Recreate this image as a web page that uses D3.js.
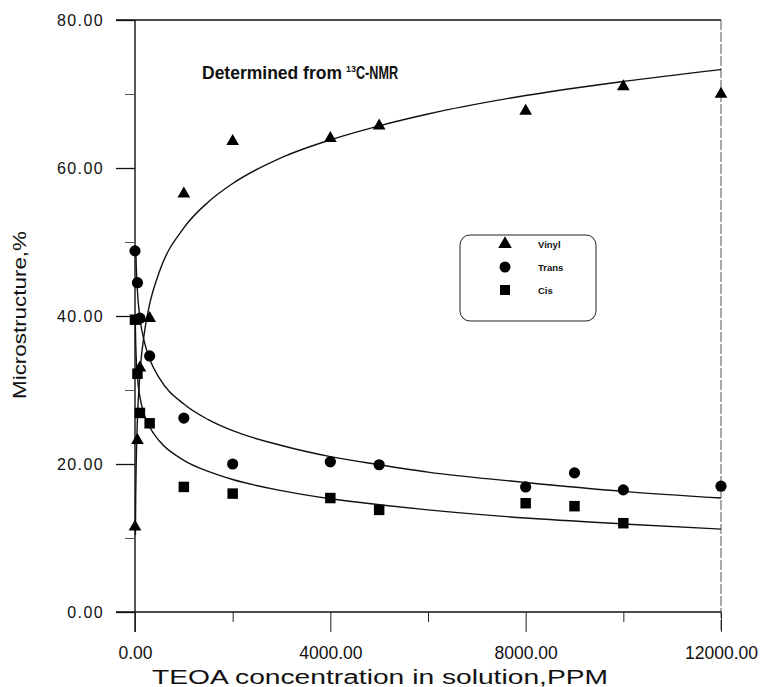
<!DOCTYPE html>
<html><head><meta charset="utf-8">
<script src="https://cdn.jsdelivr.net/npm/d3@7"></script>
<style>body{margin:0;background:#fff}svg{display:block}</style>
</head><body>
<svg id="c" width="760" height="687"></svg>
<script>
// Measured data
const vinylX = [0, 50, 100, 300, 1000, 2000, 4000, 5000, 8000, 10000, 12000];
const vinylY = [11.5, 23.2, 33.0, 39.7, 56.5, 63.6, 64.0, 65.7, 67.7, 71.0, 70.0];
const transX = [0, 50, 100, 300, 1000, 2000, 4000, 5000, 8000, 9000, 10000, 12000];
const transY = [48.8, 44.5, 39.7, 34.6, 26.2, 20.0, 20.3, 19.9, 16.9, 18.8, 16.5, 17.0];
const cisX = [0, 50, 100, 300, 1000, 2000, 4000, 5000, 8000, 9000, 10000];
const cisY = [39.5, 32.2, 26.9, 25.5, 16.9, 16.0, 15.4, 13.8, 14.7, 14.3, 12.0];
// Fitted curves
const vinylFitX = [8, 15, 25, 50, 100, 200, 300, 500, 1000, 1500, 2000, 3000, 4000, 5000, 6000, 8000, 10000, 12000];
const vinylFitY = [10.4, 15.8, 20.2, 26.1, 32.1, 38.1, 41.6, 46.0, 51.9, 55.4, 57.9, 61.4, 63.8, 65.7, 67.3, 69.8, 71.7, 73.3];
const transFitX = [16, 25, 50, 100, 200, 300, 500, 1000, 1500, 2000, 3000, 4000, 5000, 6000, 8000, 10000, 12000];
const transFitY = [49.2, 46.9, 43.3, 39.8, 36.3, 34.2, 31.6, 28.1, 26.0, 24.5, 22.5, 21.0, 19.9, 18.9, 17.5, 16.3, 15.4];
const cisFitX = [6, 10, 25, 50, 100, 200, 300, 500, 1000, 1500, 2000, 3000, 4000, 5000, 6000, 8000, 10000, 12000];
const cisFitY = [39.7, 37.8, 34.3, 31.7, 29.1, 26.5, 25.0, 23.1, 20.5, 19.0, 17.9, 16.4, 15.3, 14.5, 13.8, 12.7, 11.9, 11.2];
const xMajor = [0, 4000, 8000, 12000];
const xMinor = [2000, 6000, 10000];
const yMajor = [0, 20, 40, 60, 80];
const yMinor = [10, 30, 50, 70];
const legendLabels = ["Vinyl", "Trans", "Cis"];

const FONT = "Liberation Sans, Arial, sans-serif";
const svg = d3.select("#c");
const x = d3.scaleLinear().domain([0, 12000]).range([135, 721]);
const y = d3.scaleLinear().domain([0, 80]).range([612, 20]);
const fmt = d3.format(".2f");

// frame top/right
svg.append("line").attr("x1", 116).attr("x2", x(12000)).attr("y1", y(80)).attr("y2", y(80)).attr("stroke", "#111").attr("stroke-width", 1.3);
svg.append("line").attr("x1", x(12000)).attr("x2", x(12000)).attr("y1", y(80)).attr("y2", 632).attr("stroke", "#555").attr("stroke-width", 1).attr("stroke-dasharray", "10,2");

// Y axis
const yAx = svg.append("g").attr("transform", `translate(${x(0)},0)`)
  .call(d3.axisLeft(y).tickValues(yMajor).tickSize(19).tickPadding(12).tickFormat(fmt));
yAx.select(".domain").attr("d", `M0,${y(80)}V632`).attr("stroke", "#111").attr("stroke-width", 1.4);
yAx.selectAll("text").attr("font-family", FONT).attr("font-size", 16).attr("letter-spacing", "1.4px").attr("fill", "#111");
yAx.selectAll(".tick line").attr("stroke", "#111").attr("stroke-width", 1.3);
svg.append("g").attr("transform", `translate(${x(0)},0)`)
  .call(d3.axisLeft(y).tickValues(yMinor).tickSize(10).tickFormat(""))
  .call(g => { g.select(".domain").remove(); g.selectAll("line").attr("stroke", "#555"); });

// X axis
const xAx = svg.append("g").attr("transform", `translate(0,${y(0)})`)
  .call(d3.axisBottom(x).tickValues(xMajor).tickSize(20).tickPadding(15).tickFormat(fmt));
xAx.select(".domain").attr("d", `M116,0H${x(12000)}`).attr("stroke", "#111").attr("stroke-width", 1.3);
xAx.selectAll("text").attr("font-family", FONT).attr("font-size", 17.5).attr("fill", "#111");
xAx.selectAll(".tick line").attr("stroke", "#222");
svg.append("g").attr("transform", `translate(0,${y(0)})`)
  .call(d3.axisBottom(x).tickValues(xMinor).tickSize(10).tickFormat(""))
  .call(g => { g.select(".domain").remove(); g.selectAll("line").attr("stroke", "#222"); });

// axis titles
svg.append("text").attr("x", 152).attr("y", 684)
  .attr("font-family", FONT).attr("font-size", 20).attr("fill", "#111")
  .attr("textLength", 456).attr("lengthAdjust", "spacingAndGlyphs")
  .text("TEOA concentration in solution,PPM");
svg.append("text").attr("transform", "translate(26,399) rotate(-90)")
  .attr("font-family", FONT).attr("font-size", 19).attr("fill", "#111")
  .attr("textLength", 168).attr("lengthAdjust", "spacingAndGlyphs")
  .text("Microstructure,%");

// title
svg.append("text").attr("x", 202).attr("y", 79)
  .attr("font-family", FONT).attr("font-weight", "bold").attr("font-size", 17.5).attr("fill", "#111")
  .attr("textLength", 140).attr("lengthAdjust", "spacingAndGlyphs").text("Determined from");
svg.append("text").attr("x", 346).attr("y", 72)
  .attr("font-family", FONT).attr("font-weight", "bold").attr("font-size", 9).attr("fill", "#111").text("13");
svg.append("text").attr("x", 356).attr("y", 79)
  .attr("font-family", FONT).attr("font-weight", "bold").attr("font-size", 17.5).attr("fill", "#111")
  .attr("textLength", 42).attr("lengthAdjust", "spacingAndGlyphs").text("C-NMR");

// fit curves
const line = d3.line().x(d => x(d[0])).y(d => y(d[1])).curve(d3.curveMonotoneX);
[[vinylFitX, vinylFitY], [transFitX, transFitY], [cisFitX, cisFitY]].forEach(([xs, ys]) => {
  svg.append("path").datum(xs.map((v, i) => [v, ys[i]])).attr("d", line)
    .attr("fill", "none").attr("stroke", "#111").attr("stroke-width", 1.4);
});

// markers
const tri = d3.symbol().type(d3.symbolTriangle).size(70);
const sq = d3.symbol().type(d3.symbolSquare).size(110);
svg.append("g").selectAll("path").data(vinylX.map((v, i) => [v, vinylY[i]])).join("path")
  .attr("d", tri).attr("transform", d => `translate(${x(d[0])},${y(d[1])})`).attr("fill", "#000");
svg.append("g").selectAll("circle").data(transX.map((v, i) => [v, transY[i]])).join("circle")
  .attr("cx", d => x(d[0])).attr("cy", d => y(d[1])).attr("r", 5.6).attr("fill", "#000");
svg.append("g").selectAll("path").data(cisX.map((v, i) => [v, cisY[i]])).join("path")
  .attr("d", sq).attr("transform", d => `translate(${x(d[0])},${y(d[1])})`).attr("fill", "#000");

// legend
const lg = svg.append("g");
lg.append("rect").attr("x", 460).attr("y", 235).attr("width", 136).attr("height", 86).attr("rx", 10)
  .attr("fill", "none").attr("stroke", "#222").attr("stroke-width", 1);
const ly = [244, 267, 290];
const lsym = [d3.symbol().type(d3.symbolTriangle).size(80)(), d3.symbol().type(d3.symbolCircle).size(95)(), d3.symbol().type(d3.symbolSquare).size(100)()];
legendLabels.forEach((lab, i) => {
  lg.append("path").attr("d", lsym[i]).attr("transform", `translate(505,${ly[i]})`).attr("fill", "#000");
  lg.append("text").attr("x", 538).attr("y", ly[i] + 3.5).attr("font-family", FONT)
    .attr("font-weight", "bold").attr("font-size", 9.5).attr("fill", "#111").text(lab);
});
</script>
</body></html>
